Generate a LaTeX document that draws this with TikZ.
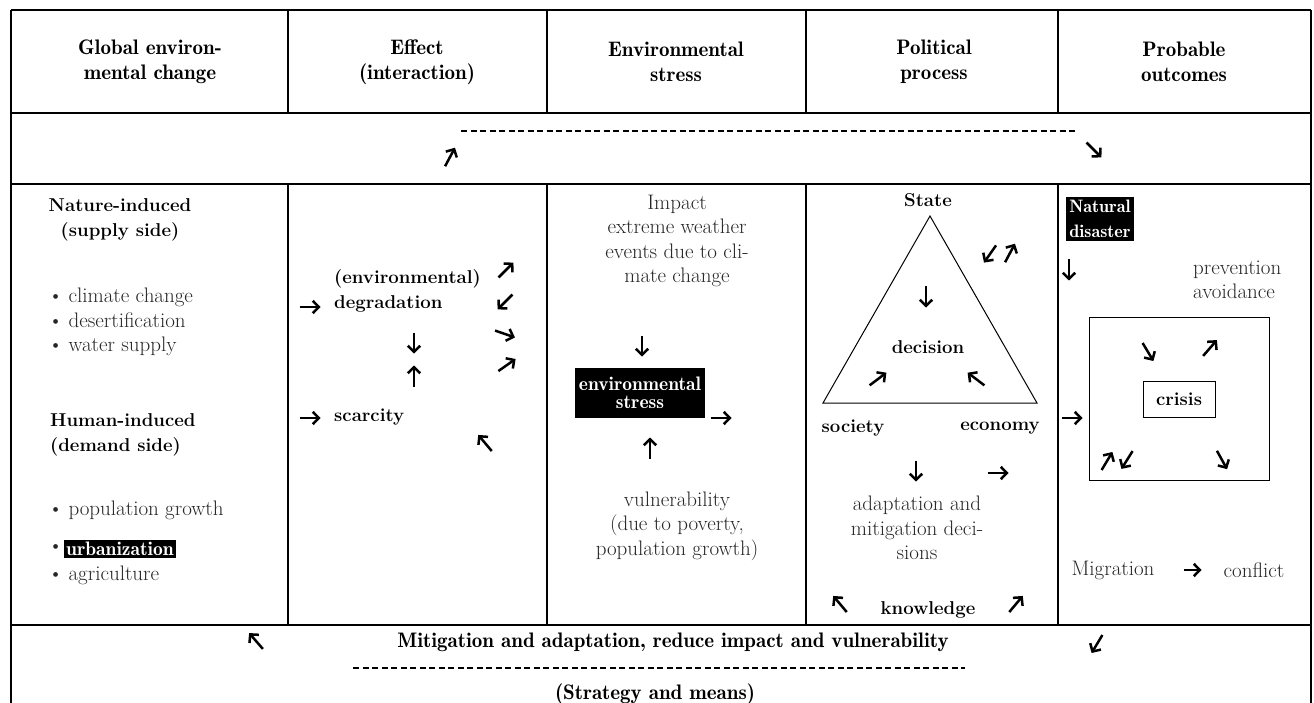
\documentclass[tikz,border=0pt]{standalone}
\usepackage{fontspec}
\usetikzlibrary{arrows.meta,positioning}
\newfontfamily\demifont{lmromandemi10-regular.otf}
\newcommand\sz{\fontsize{21pt}{24.5pt}\selectfont}
\newcommand\szb{\fontsize{18.6pt}{24.5pt}\selectfont}
\newcommand\itm{\textbullet\hspace{0.25em}}
\tikzstyle{grid}=[line width=1.3pt]
\tikzstyle{head}=[font=\demifont\fontsize{21pt}{25pt}\selectfont,align=center,inner sep=0pt]
\tikzstyle{lite}=[font=\sz,text=black!85,inner sep=0pt]
\tikzstyle{bld}=[font=\szb\bfseries,inner sep=0pt]
\tikzstyle{inv}=[font=\demifont\fontsize{18pt}{24.5pt}\selectfont,fill=black,text=white,inner xsep=3pt,inner ysep=3pt]
\tikzstyle{sepline}=[line width=1.2pt,dash pattern=on 6pt off 3.5pt]
\tikzstyle{symarrow}=[line width=2.5pt,-{Straight Barb[length=6pt,width=12.5pt]}]
\tikzset{arr/.pic={\draw[symarrow] (-10.5,0) -- (10.5,0);}}

\begin{document}
\begin{tikzpicture}[x=1pt,y=-1pt]
\useasboundingbox (0,0) rectangle (1314,703);
% table
\draw[grid] (11,10) -- (1311,10);
\draw[grid] (11,113) -- (1311,113);
\draw[grid] (11,184) -- (1311,184);
\draw[grid] (11,625) -- (1311,625);
\draw[grid] (11,10) -- (11,703);
\draw[grid] (1311,10) -- (1311,703);
\foreach \x in {288,547,806,1058}{
  \draw[grid] (\x,10) -- (\x,113);
  \draw[grid] (\x,184) -- (\x,625);
}

% headers
\node[head] (h1) at (150,62) {Global environ-\\mental change};
\node[head] (h2) at (417,62) {Effect\\(interaction)};
\node[head] (h3) at (676,62) {Environmental\\stress};
\node[head] (h4) at (934,62) {Political\\process};
\node[head] (h5) at (1184,62) {Probable\\outcomes};
\draw[sepline] (461,131) -- (1075,131);

% global environmental change
\node[bld,align=center] (nat) at (120,220) {Nature-induced\\(supply side)};
\node[lite,align=left,anchor=west] (natl) at (48,322) {\itm climate change\\\itm desertification\\\itm water supply};
\node[bld,align=left,anchor=west] (hum) at (50,435) {Human-induced\\(demand side)};
\node[lite,anchor=west] (pop) at (48,510) {\itm population growth};
\node[lite,anchor=west] (urbb) at (48,549) {\textbullet};
\node[inv,anchor=west,inner xsep=2pt,inner ysep=2pt,font=\demifont\fontsize{19.5pt}{24pt}\selectfont] (urb) at (64,549) {urbanization};
\node[lite,anchor=west] (agr) at (48,575) {\itm agriculture};

% effect
\node[bld,align=left,anchor=west] (deg) at (334,291) {(environmental)\\degradation};
\node[bld,anchor=west] (scar) at (334,417) {scarcity};

% environmental stress
\node[lite,align=center] (imp) at (677,241) {Impact\\extreme weather\\events due to cli-\\mate change};
\node[inv,align=center,minimum width=130,minimum height=50,inner xsep=2pt,font=\demifont\fontsize{19.5pt}{18pt}\selectfont] (es) at (640,393) {environmental\\stress};
\node[lite,align=center] (vul) at (677,526) {vulnerability\\(due to poverty,\\population growth)};

% political process
\coordinate (top) at (930,216);
\coordinate (bl) at (823,403);
\coordinate (br) at (1037,403);
\draw[line width=1pt] (top) -- (bl) -- (br) -- cycle;
\node[bld] (state) at (928,200) {State};
\node[bld] (dec) at (928,347) {decision};
\node[bld] (soc) at (853,428) {society};
\node[bld] (eco) at (1000,428) {economy};
\node[lite,align=center] (adm) at (917,528) {adaptation and\\mitigation deci-\\sions};
\node[bld] (know) at (928,610) {knowledge};

% probable outcomes
\node[inv,align=center] (nd) at (1100,219) {Natural\\disaster};
\node[lite,align=left,anchor=west] (prev) at (1193,280) {prevention\\avoidance};
\node[draw,line width=1pt,minimum width=180,minimum height=163] (cbox) at (1179,398.5) {};
\node[draw,line width=1pt,bld,minimum width=72,minimum height=36] (cri) at (1179,399) {crisis};
\node[lite] (mig) at (1113,570) {Migration};
\node[lite] (con) at (1254,570) {conflict};
\draw[symarrow,shorten <=29pt,shorten >=22pt] (mig) -- (con);

% bottom row
\node[head] (mit) at (673,642) {Mitigation and adaptation, reduce impact and vulnerability};
\draw[sepline] (353,668) -- (965,668);
\node[head] (strat) at (655,694) {(Strategy and means)};

% arrow signs
\foreach \x/\y/\a in {450/157/62, 1094/150/-45,
  310/307/0, 310/418/0, 506/270/45, 505/302/225, 505/334/-19, 507/365/35,
  414/343/-90, 414/376/90, 485/443/130,
  642/346/-90, 721/418/0, 650/448/90,
  990/254/235, 1010/253/62, 926/297/-90, 878/379/37, 976/379/143,
  916/471/-90, 998/473/0, 840/604/130, 1016/604/50,
  1069/270/-90, 1072/418/0, 1148/352/-59, 1210/348/49,
  1107/461/59, 1127/460/238, 1222/460/-61,
  256/641/131, 1097/644/239}
  \pic[rotate=\a] at (\x,\y) {arr};
\end{tikzpicture}
\end{document}
